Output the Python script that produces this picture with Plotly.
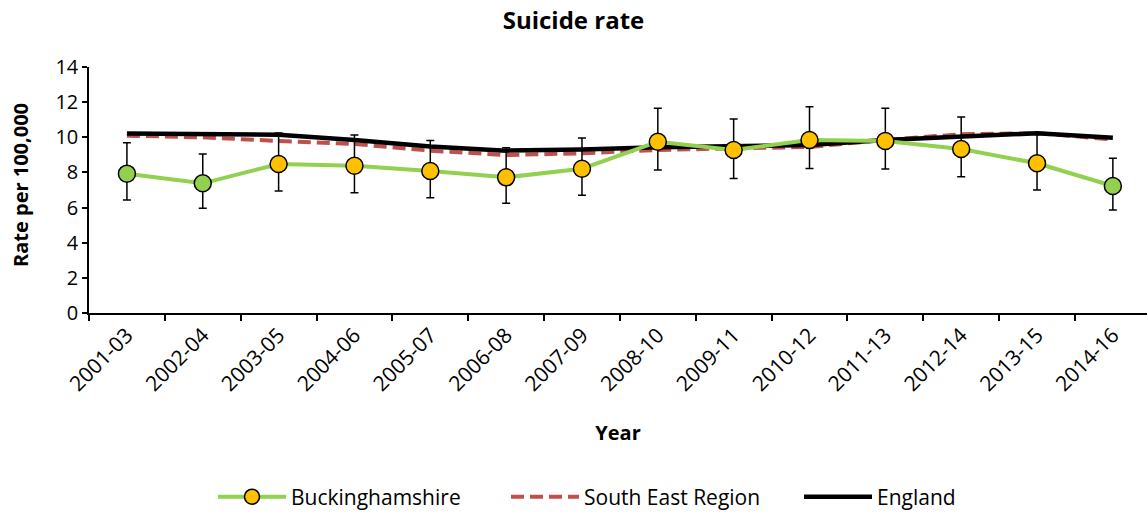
import plotly.graph_objects as go

years = ["2001-03", "2002-04", "2003-05", "2004-06", "2005-07", "2006-08", "2007-09",
         "2008-10", "2009-11", "2010-12", "2011-13", "2012-14", "2013-15", "2014-16"]
bucks = [7.93, 7.38, 8.48, 8.38, 8.08, 7.72, 8.21, 9.75, 9.28, 9.85, 9.79, 9.33, 8.52, 7.23]
bucks_upper = [9.69, 9.05, 10.24, 10.13, 9.81, 9.41, 9.96, 11.65, 11.04, 11.74, 11.65, 11.16, 10.26, 8.80]
bucks_lower = [6.43, 5.96, 6.94, 6.85, 6.56, 6.24, 6.70, 8.14, 7.65, 8.23, 8.20, 7.76, 7.00, 5.86]
south_east = [10.09, 10.00, 9.79, 9.62, 9.24, 8.99, 9.09, 9.28, 9.37, 9.45, 9.85, 10.17, 10.23, 9.88]
england = [10.22, 10.18, 10.15, 9.85, 9.47, 9.24, 9.30, 9.43, 9.47, 9.56, 9.85, 10.07, 10.23, 9.98]
# marker fill per period (green / amber)
bucks_colors = ["#92D050", "#92D050", "#FFC000", "#FFC000", "#FFC000", "#FFC000", "#FFC000",
                "#FFC000", "#FFC000", "#FFC000", "#FFC000", "#FFC000", "#FFC000", "#92D050"]

FONT = "Open Sans"
W, H = 1147, 515
ML, MT, MB = 89, 67, 202
SE_DASH = "13px,6px"

fig = go.Figure()

fig.add_trace(go.Scatter(
    x=years, y=south_east, mode="lines", name="South East Region",
    line=dict(color="#C0504D", width=4, dash=SE_DASH), showlegend=False))
fig.add_trace(go.Scatter(
    x=years, y=england, mode="lines", name="England",
    line=dict(color="#000000", width=4.5), showlegend=False))
fig.add_trace(go.Scatter(
    x=years, y=bucks, mode="lines+markers", name="Buckinghamshire",
    line=dict(color="#92D050", width=4),
    marker=dict(size=17, color=bucks_colors, line=dict(color="#000000", width=1.5)),
    error_y=dict(type="data", symmetric=False,
                 array=[u - v for u, v in zip(bucks_upper, bucks)],
                 arrayminus=[v - l for v, l in zip(bucks, bucks_lower)],
                 color="#000000", thickness=1.5, width=4),
    showlegend=False))

# legend entries
fig.add_trace(go.Scatter(
    x=[None], y=[None], mode="lines+markers", name="Buckinghamshire",
    line=dict(color="#92D050", width=4),
    marker=dict(size=15, color="#FFC000", line=dict(color="#000000", width=1.5))))
fig.add_trace(go.Scatter(
    x=[None], y=[None], mode="lines", name="South East Region",
    line=dict(color="#C0504D", width=4, dash=SE_DASH)))
fig.add_trace(go.Scatter(
    x=[None], y=[None], mode="lines", name="England",
    line=dict(color="#000000", width=4.5)))

plot_w = W - ML
plot_h = H - MT - MB

fig.update_layout(
    width=W, height=H,
    margin=dict(l=ML, r=0, t=MT, b=MB, autoexpand=False),
    paper_bgcolor="white", plot_bgcolor="white",
    font=dict(family=FONT, size=20, color="#000000"),
    title=dict(text="<b>Suicide rate</b>", x=0.5, xanchor="center", y=0.96, yanchor="middle",
               font=dict(family=FONT, size=24, color="#000000")),
    legend=dict(orientation="h", xref="container", x=0.1857, xanchor="left",
                y=-0.748, yanchor="middle",
                font=dict(family=FONT, size=21), itemwidth=68, entrywidth=210,
                traceorder="normal"),
    xaxis=dict(
        type="category", range=[-0.5, 13.45], showline=True, linecolor="#000000", linewidth=1.5,
        ticks="outside", tickson="boundaries", ticklen=6, tickwidth=1.5, tickcolor="#000000",
        tickangle=-45, showgrid=False, zeroline=False, automargin=False,
        tickfont=dict(family=FONT, size=21),
        title=dict(text="<b>Year</b>", font=dict(family=FONT, size=20), standoff=30)),
    yaxis=dict(
        range=[0, 14], dtick=2, showline=True, linecolor="#000000", linewidth=1.5,
        ticks="outside", ticklen=5, tickwidth=1.5, tickcolor="#000000",
        showgrid=False, zeroline=False, automargin=False,
        tickfont=dict(family=FONT, size=20)),
    annotations=[dict(
        text="<b>Rate per 100,000</b>", textangle=-90, showarrow=False,
        xref="paper", yref="paper", x=(20 - ML) / plot_w, y=(MT + plot_h - 185) / plot_h,
        xanchor="center", yanchor="middle",
        font=dict(family=FONT, size=20, color="#000000"))],
)

fig.write_html("out.html", config={"displayModeBar": False},
               post_script="document.body.style.margin='0';document.body.style.overflow='hidden';")
